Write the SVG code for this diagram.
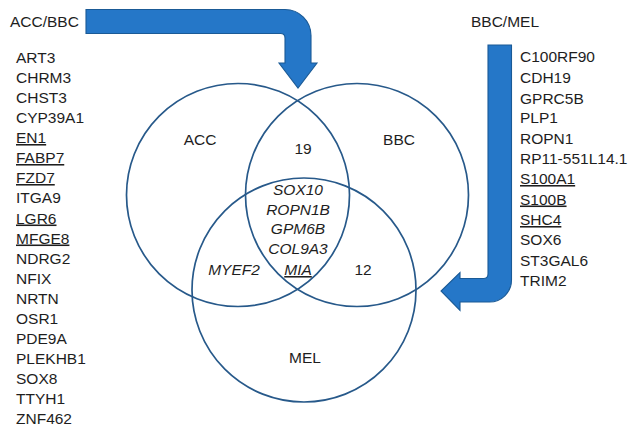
<svg xmlns="http://www.w3.org/2000/svg" width="635" height="429" viewBox="0 0 635 429">
<style>
text{font-family:"Liberation Sans",Arial,sans-serif;font-size:15.5px;fill:#1e1e1e}
.it{font-style:italic}
.mid{text-anchor:middle}
.u{text-decoration:underline}
.venn{fill:none;stroke:#27598a;stroke-width:1.7}
.arrow{fill:#2577c8;stroke:#1a5a96;stroke-width:1.1}
</style>
<rect width="635" height="429" fill="#ffffff"/>
<g id="connectors">
<path class="arrow" d="M 86 9.5 L 285 9.5 A 26 26 0 0 1 311 35.5 L 311 63 L 317 63 L 298 88 L 279 63 L 285 63 L 285 38 Q 285 33.5 280.5 33.5 L 86 33.5 Z"/>
<path class="arrow" d="M 488 45 L 511.5 45 L 511.5 280 A 22 22 0 0 1 489.5 302 L 460 302 L 460 310.5 L 441 291 L 460 272.5 L 460 278.5 L 483.5 278.5 Q 488 278.5 488 274 Z"/>
</g>
<g id="node-acc">
<circle class="venn" cx="238" cy="195" r="111.5"/>
<text x="200" y="145" class="mid">ACC</text>
</g>
<g id="node-bbc">
<circle class="venn" cx="357" cy="195" r="111.5"/>
<text x="399" y="145" class="mid">BBC</text>
</g>
<g id="node-mel">
<circle class="venn" cx="304" cy="290" r="112"/>
<text x="305" y="363" class="mid">MEL</text>
</g>
<g id="overlaps">
<text x="303" y="154" class="mid">19</text>
<text x="298" y="195" class="mid it">SOX10</text>
<text x="298" y="215" class="mid it">ROPN1B</text>
<text x="298" y="234" class="mid it">GPM6B</text>
<text x="298" y="254" class="mid it">COL9A3</text>
<text x="298" y="275" class="mid it u">MIA</text>
<text x="234" y="275" class="mid it">MYEF2</text>
<text x="363" y="275" class="mid">12</text>
</g>
<g id="label-acc-bbc">
<text x="10" y="27">ACC/BBC</text>
<text x="16" y="63">ART3</text>
<text x="16" y="83">CHRM3</text>
<text x="16" y="103">CHST3</text>
<text x="16" y="123">CYP39A1</text>
<text x="16" y="143" class="u">EN1</text>
<text x="16" y="163" class="u">FABP7</text>
<text x="16" y="183" class="u">FZD7</text>
<text x="16" y="203">ITGA9</text>
<text x="16" y="223.5" class="u">LGR6</text>
<text x="16" y="243.5" class="u">MFGE8</text>
<text x="16" y="263.5">NDRG2</text>
<text x="16" y="283.5">NFIX</text>
<text x="16" y="303.5">NRTN</text>
<text x="16" y="324">OSR1</text>
<text x="16" y="344">PDE9A</text>
<text x="16" y="364">PLEKHB1</text>
<text x="16" y="384">SOX8</text>
<text x="16" y="404">TTYH1</text>
<text x="16" y="424">ZNF462</text>
</g>
<g id="label-bbc-mel">
<text x="471" y="27">BBC/MEL</text>
<text x="520" y="62">C100RF90</text>
<text x="520" y="83">CDH19</text>
<text x="520" y="103.5">GPRC5B</text>
<text x="520" y="123">PLP1</text>
<text x="520" y="143.5">ROPN1</text>
<text x="520" y="164">RP11-551L14.1</text>
<text x="520" y="184" class="u">S100A1</text>
<text x="520" y="204.5" class="u">S100B</text>
<text x="520" y="225" class="u">SHC4</text>
<text x="520" y="245">SOX6</text>
<text x="520" y="265.5">ST3GAL6</text>
<text x="520" y="286">TRIM2</text>
</g>
</svg>
